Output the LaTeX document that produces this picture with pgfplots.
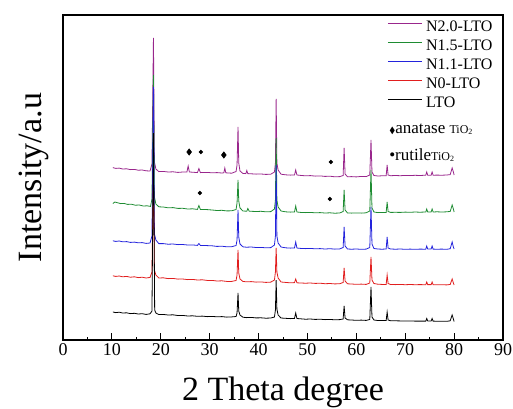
\documentclass[border=0pt]{standalone}
\usepackage{amssymb}
\usepackage{fontspec}
\setmainfont{Liberation Serif}
\usepackage{pgfplots}
\pgfplotsset{compat=1.18}
\definecolor{cP}{RGB}{153,38,140}
\definecolor{cG}{RGB}{30,140,50}
\definecolor{cB}{RGB}{35,35,220}
\definecolor{cR}{RGB}{225,30,30}
\begin{document}
\begin{tikzpicture}
\begin{axis}[
  scale only axis, width=440pt, height=325pt,
  xmin=0, xmax=90, ymin=0, ymax=325,
  xtick={0,10,...,90}, ytick=\empty,
  minor x tick num=1,
  xtick pos=bottom, tick align=inside,
  major tick length=7pt, minor tick length=3.5pt,
  tick style={line width=1pt, black},
  axis line style={line width=1.3pt},
  /pgf/number format/assume math mode=true,
  ticklabel style={font=\fontsize{18}{18}\selectfont},
  xlabel={2 Theta degree},
  ylabel={Intensity/a.u},
  xlabel style={at={(axis description cs:0.5,-0.185)}, anchor=base, font=\fontsize{34}{34}\selectfont},
  ylabel style={at={(axis description cs:-0.048,0.5)}, anchor=base, font=\fontsize{34}{34}\selectfont},
  legend cell align=left,
  legend style={at={(axis description cs:0.7367,0.985)}, anchor=north west, draw=none, fill=none, inner sep=0pt,
    font=\fontsize{16}{16}\selectfont,
    nodes={inner sep=1pt, text height=10.5pt, text depth=3pt}, row sep=3.5pt},
  legend image code/.code={\draw[#1] (0pt,4pt) -- (34pt,4pt); \path (37pt,4pt);},
  every axis plot/.append style={line width=0.8pt},
]
\addplot[cP] coordinates {(10.2,172.4)(10.8,171.6)(11.5,171.9)(12.2,171.0)(13,171.2)(13.8,170.4)(14.6,170.6)(15.4,169.8)(16.2,170.0)(17,169.2)(17.8,169.0)(18.2,176)(18.5,302)(18.7,178)(19,171)(19.6,168.4)(20.5,168.6)(21.5,168.0)(22.5,168.2)(23.5,167.6)(24.5,168.0)(25.35,168)(25.6,174)(25.85,168)(26.5,167.8)(27.5,167.4)(27.8,171.5)(28.1,167.4)(29.5,167.6)(30.5,167.2)(31.5,167.4)(32.5,167.0)(32.9,167.2)(33.1,172)(33.3,167.2)(34.5,166.8)(35.4,168.5)(35.6,175)(35.8,213)(35.95,177)(36.2,169)(36.8,166.6)(37.4,166.4)(37.6,169.5)(37.8,166.4)(38.5,166.2)(39.5,165.9)(40.5,166.0)(41.5,165.6)(42.5,165.8)(43.25,168)(43.45,177)(43.6,241)(43.75,177)(44,170)(44.6,165.8)(45.5,165.2)(46.5,164.9)(47.35,165.0)(47.6,170)(47.85,165)(48.6,164.6)(49.6,164.2)(50.6,164.4)(51.6,163.9)(52.6,164.1)(53.6,163.6)(54.6,163.8)(55.6,163.2)(56.6,163.4)(57.3,164.5)(57.5,192)(57.7,166)(58.2,163.2)(59,163.4)(60,163.1)(61,163.6)(62,163.4)(62.75,165)(63,200)(63.2,168)(63.6,164.5)(64.4,164.0)(65.2,164.2)(66.1,164.2)(66.3,175)(66.5,165)(67,164.3)(68,164.5)(69,164.3)(70,164.6)(71,164.4)(72,164.7)(73,164.5)(74.2,164.8)(74.4,168)(74.6,164.8)(75.3,164.8)(75.5,168)(75.7,164.8)(76.5,164.9)(77.5,164.8)(78.5,165.0)(79.2,165.4)(79.6,172)(79.85,168)(80,165)};
\addlegendentry{N2.0-LTO}
\addplot[cG] coordinates {(10.2,136.5)(10.6,138)(11.2,137.2)(11.8,136.4)(12.5,136.6)(13.2,135.6)(14,135.8)(14.8,134.8)(15.6,135.0)(16.4,134.0)(17.2,134.2)(17.9,133.6)(18.2,141)(18.5,265)(18.7,143)(19,136)(19.6,133.2)(20.5,133.0)(21.5,132.2)(22.5,132.4)(23.5,131.6)(24.5,131.7)(25.5,131.0)(26.5,131.2)(27.5,130.6)(27.8,134.5)(28.1,130.6)(29.5,130.4)(30.5,130.0)(31.5,129.5)(32.5,129.7)(33.5,129.1)(34.5,129.2)(35.4,130.5)(35.6,137)(35.8,160)(35.95,139)(36.2,132)(36.8,129.0)(37.6,128.8)(37.8,131.5)(38.1,128.8)(39.5,128.5)(40.5,128.7)(41.5,128.2)(42.5,128.4)(43.25,131)(43.45,140)(43.6,202)(43.75,140)(44,133)(44.6,129)(45.5,128.2)(46.5,127.9)(47.35,128.0)(47.6,134)(47.85,128)(48.6,127.6)(49.6,127.4)(50.6,127.6)(51.6,127.2)(52.6,127.4)(53.6,127.0)(54.6,127.2)(55.6,126.8)(56.6,127.0)(57.3,128.5)(57.5,150)(57.7,130)(58.2,127.0)(59,126.9)(60,127.1)(61,126.9)(62,127.2)(62.75,129)(63,170)(63.2,132)(63.6,128)(64.4,127.4)(65.2,127.5)(66.1,127.6)(66.3,138)(66.5,128.5)(67,127.6)(68,127.7)(69,127.6)(70,127.9)(71,127.7)(72,128.0)(73,127.8)(74.2,128.0)(74.4,131)(74.6,128.1)(75.3,128.1)(75.5,131)(75.7,128.0)(76.5,128.2)(77.5,128.0)(78.5,128.2)(79.2,128.6)(79.6,135)(79.85,131)(80,128)};
\addlegendentry{N1.5-LTO}
\addplot[cB] coordinates {(10.2,99.2)(10.8,98.6)(11.5,99.0)(12.2,98.2)(13,98.4)(13.8,97.6)(14.6,97.9)(15.4,97.2)(16.2,97.4)(17,96.6)(17.8,97.0)(18.2,104)(18.5,253)(18.7,106)(19,100)(19.6,96.4)(20.5,96.4)(21.5,95.8)(22.5,96.0)(23.5,95.4)(24.5,95.5)(25.5,95.0)(26.5,95.1)(27.5,94.6)(27.8,96.5)(28.1,94.6)(29.5,94.4)(30.5,94.2)(31.5,93.6)(32.5,93.8)(33.5,93.2)(34.5,93.3)(35.4,94.5)(35.6,100)(35.8,130)(35.95,103)(36.2,96)(36.8,93.2)(37.5,92.8)(38.5,93.0)(39.5,92.5)(40.5,92.6)(41.5,92.2)(42.5,92.4)(43.25,95)(43.45,104)(43.6,175)(43.75,104)(44,97)(44.6,93)(45.5,92.2)(46.5,91.9)(47.35,92.0)(47.6,98)(47.85,92)(48.6,91.6)(49.6,91.4)(50.6,91.6)(51.6,91.2)(52.6,91.4)(53.6,91.0)(54.6,91.3)(55.6,90.9)(56.6,91.1)(57.3,92.5)(57.5,113)(57.7,94)(58.2,91.0)(59,90.8)(60,91.0)(61,90.7)(62,90.9)(62.75,92.5)(63,133)(63.2,96)(63.6,91.5)(64.4,91.0)(65.2,90.8)(66.1,91.0)(66.3,103)(66.5,92)(67,91.0)(68,90.8)(69,91.0)(70,90.7)(71,90.9)(72,90.7)(73,90.9)(74.2,90.8)(74.4,94)(74.6,91)(75.3,91)(75.5,94)(75.7,90.9)(76.5,90.8)(77.5,90.9)(78.5,90.7)(79.2,91.3)(79.6,98)(79.85,93)(80,91)};
\addlegendentry{N1.1-LTO}
\addplot[cR] coordinates {(10.2,64.2)(10.8,63.6)(11.5,64.0)(12.2,63.2)(13,63.6)(13.8,62.8)(14.6,63.2)(15.4,62.4)(16.2,62.8)(17,62.0)(17.8,62.6)(18.2,68)(18.5,170)(18.7,70)(19,65)(19.6,62.0)(20.5,62.2)(21.5,61.4)(22.5,61.6)(23.5,60.9)(24.5,61.0)(25.5,60.4)(26.5,60.6)(27.5,60.0)(28.5,60.2)(29.5,59.6)(30.5,59.6)(31.5,59.0)(32.5,59.2)(33.5,58.6)(34.5,58.6)(35.4,59.5)(35.6,65)(35.8,90)(35.95,67)(36.2,61)(36.8,58.6)(37.5,58.2)(38.5,58.4)(39.5,57.9)(40.5,58.1)(41.5,57.6)(42.5,57.9)(43.25,60)(43.45,68)(43.6,92)(43.75,68)(44,62)(44.6,58)(45.5,57.6)(46.5,57.2)(47.35,57.4)(47.6,61)(47.85,57.2)(48.6,57.0)(49.6,56.8)(50.6,57.0)(51.6,56.6)(52.6,56.8)(53.6,56.3)(54.6,56.5)(55.6,56.1)(56.6,56.3)(57.3,57.5)(57.5,72)(57.7,59)(58.2,56.2)(59,56.0)(60,55.7)(61,55.9)(62,55.6)(62.75,57)(63,83)(63.2,60)(63.6,56.5)(64.4,55.8)(65.2,55.6)(66.1,55.6)(66.3,65)(66.5,56.5)(67,55.5)(68,55.4)(69,55.6)(70,55.3)(71,55.5)(72,55.3)(73,55.4)(74.2,55.3)(74.4,58)(74.6,55.4)(75.3,55.4)(75.5,58)(75.7,55.3)(76.5,55.2)(77.5,55.3)(78.5,55.1)(79.2,55.6)(79.6,61)(79.85,57)(80,55)};
\addlegendentry{N0-LTO}
\addplot[black] coordinates {(10.2,28.0)(10.8,27.4)(11.5,27.8)(12.2,27.0)(13,27.2)(13.8,26.4)(14.6,26.7)(15.4,26.0)(16.2,26.3)(17,25.6)(17.8,26.2)(18.2,29)(18.5,207)(18.75,30)(19,27)(19.6,25.5)(20.5,25.6)(21.5,25.0)(22.5,25.2)(23.5,24.5)(24.5,24.6)(25.5,24.0)(26.5,24.2)(27.5,23.7)(28.5,23.9)(29.5,23.4)(30.5,23.6)(31.5,23.2)(32.5,23.4)(33.5,22.9)(34.5,23.1)(35.4,23.5)(35.6,27)(35.8,47)(35.95,29)(36.2,25)(36.8,22.8)(37.5,22.4)(38.5,22.6)(39.5,22.1)(40.5,22.2)(41.5,21.8)(42.5,22.0)(43.25,23)(43.45,30)(43.6,60)(43.75,31)(44,25)(44.6,22)(45.5,21.7)(46.5,21.4)(47.35,21.6)(47.6,27)(47.85,21.5)(48.6,21.2)(49.6,20.8)(50.6,21.0)(51.6,20.6)(52.6,20.8)(53.6,20.4)(54.6,20.6)(55.6,20.2)(56.6,20.4)(57.3,21)(57.5,34)(57.7,22)(58.2,20.2)(59,20.0)(60,19.7)(61,19.9)(62,19.6)(62.75,20.5)(63,53)(63.2,23)(63.6,20)(64.4,19.5)(65.2,19.6)(66.1,19.6)(66.3,28)(66.5,20)(67,19.3)(68,19.2)(69,19.1)(70,19.0)(71,19.0)(72,18.9)(73,18.9)(74.2,18.9)(74.4,21.5)(74.6,19)(75.3,19)(75.5,21.5)(75.7,18.9)(76.5,18.8)(77.5,18.7)(78.5,18.7)(79.2,19.2)(79.6,25)(79.85,21)(80,18.5)};
\addlegendentry{LTO}
\addplot[only marks, mark=diamond*, mark size=3pt, black, forget plot] coordinates {(25.8,188)(32.9,185)};
\addplot[only marks, mark=*, mark size=1.7pt, black, forget plot] coordinates {(28.2,188)(54.8,178)(28.0,147)(54.6,141)};
\node[anchor=base west, font=\fontsize{17}{17}\selectfont, inner sep=0pt] at (axis cs:66.7,207) {{\fontsize{9}{9}\selectfont$\blacklozenge$}anatase {\fontsize{12}{12}\selectfont TiO\textsubscript{2}}};
\node[anchor=base west, font=\fontsize{17}{17}\selectfont, inner sep=0pt] at (axis cs:66.7,180) {\textbullet rutile{\fontsize{12}{12}\selectfont TiO\textsubscript{2}}};
\coordinate (bl) at (rel axis cs:0,0);
\coordinate (tr) at (rel axis cs:1,1);
\end{axis}
\pgfresetboundingbox
\path ([shift={(-63pt,-68pt)}]bl) rectangle ([shift={(10pt,15pt)}]tr);
\end{tikzpicture}
\end{document}
